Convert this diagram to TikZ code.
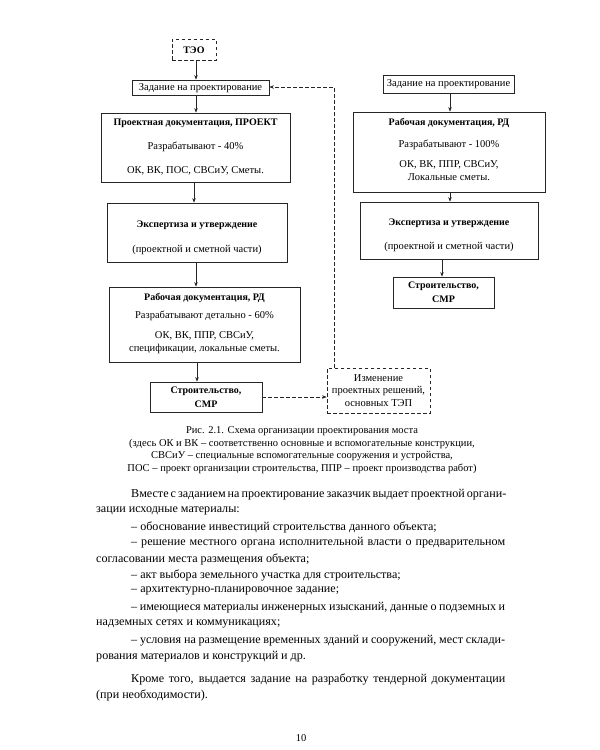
\documentclass[tikz,border=0pt]{standalone}
\usepackage{fontspec}
\setmainfont{Liberation Serif}
\usetikzlibrary{arrows.meta}
\begin{document}
\begin{tikzpicture}[x=1pt,y=-1pt,
  ink/.style={draw=black!85, line width=0.75pt},
  box/.style={ink, rectangle, inner sep=0pt},
  dbox/.style={box, dash pattern=on 3.5pt off 2.5pt},
  tx/.style={inner sep=0pt, text=black, font=\fontsize{10.5}{12}\selectfont},
  btx/.style={tx, font=\fontsize{10}{12}\selectfont\bfseries},
  arr/.style={ink, line width=0.6pt, -{Stealth[length=4.5pt,width=3.5pt]}},
  darr/.style={arr, dash pattern=on 3.5pt off 2.5pt},
  captx/.style={inner sep=0pt, text=black, font=\fontsize{10.5}{12}\selectfont},
  body/.style={inner sep=0pt, anchor=west, text=black, font=\fontsize{12.1}{14}\selectfont},
]
\useasboundingbox (0,0) rectangle (600,750);
\fill[white] (0,0) rectangle (600,750);

% ---------------- left column ----------------
\node[dbox, minimum width=44pt, minimum height=21pt] (teo) at (194,49.5) {};
\node[btx] (teot) at (194,50) {ТЭО};

\node[box, minimum width=137pt, minimum height=15pt] (zad1) at (200.5,87.5) {};
\node[tx] (zad1t) at (200.5,88) {Задание на проектирование};

\node[box, minimum width=189pt, minimum height=69pt] (proj) at (195.5,147.5) {};
\node[btx] (projt1) at (195.5,123) {Проектная документация, ПРОЕКТ};
\node[tx] (projt2) at (195.5,147) {Разрабатывают - 40\%};
\node[tx] (projt3) at (195.5,171) {ОК, ВК, ПОС, СВСиУ, Сметы.};

\node[box, minimum width=180pt, minimum height=59pt] (exp1) at (197,232.5) {};
\node[btx] (exp1t1) at (197,225) {Экспертиза и утверждение};
\node[tx] (exp1t2) at (197,250) {(проектной и сметной части)};

\node[box, minimum width=191pt, minimum height=75pt] (rd1) at (204.5,324.5) {};
\node[btx] (rd1t1) at (204.5,298) {Рабочая документация, РД};
\node[tx] (rd1t2) at (204.5,316) {Разрабатывают детально - 60\%};
\node[tx] (rd1t3) at (204.5,336) {ОК, ВК, ППР, СВСиУ,};
\node[tx] (rd1t4) at (204.5,349) {спецификации, локальные сметы.};

\node[box, minimum width=112pt, minimum height=30pt] (str1) at (206,397) {};
\node[btx] (str1t1) at (206,391) {Строительство,};
\node[btx] (str1t2) at (206,404) {СМР};

\node[dbox, minimum width=103pt, minimum height=45pt] (izm) at (378.5,390.5) {};
\node[tx] (izmt1) at (378.5,378) {Изменение};
\node[tx] (izmt2) at (378.5,391) {проектных решений,};
\node[tx] (izmt3) at (378.5,403) {основных ТЭП};

% ---------------- right column ----------------
\node[box, minimum width=131pt, minimum height=18pt] (zad2) at (448.5,84) {};
\node[tx] (zad2t) at (448.5,84.5) {Задание на проектирование};

\node[box, minimum width=192pt, minimum height=80pt] (rd2) at (449,152) {};
\node[btx] (rd2t1) at (449,123) {Рабочая документация, РД};
\node[tx] (rd2t2) at (449,145) {Разрабатывают - 100\%};
\node[tx] (rd2t3) at (449,165) {ОК, ВК, ППР, СВСиУ,};
\node[tx] (rd2t4) at (449,177) {Локальные сметы.};

\node[box, minimum width=178pt, minimum height=57pt] (exp2) at (449,230.5) {};
\node[btx] (exp2t1) at (449,223) {Экспертиза и утверждение};
\node[tx] (exp2t2) at (449,247) {(проектной и сметной части)};

\node[box, minimum width=101pt, minimum height=31pt] (str2) at (443.5,292.5) {};
\node[btx] (str2t1) at (443.5,286) {Строительство,};
\node[btx] (str2t2) at (443.5,299) {СМР};

% ---------------- connectors ----------------
\coordinate (a1) at (196,0);
\draw[arr] (teo.south -| a1) -- (zad1.north -| a1);
\draw[arr] (zad1.south -| a1) -- (proj.north -| a1);
\coordinate (a2) at (194,0);
\draw[arr] (proj.south -| a2) -- (exp1.north -| a2);
\draw[arr] (exp1.south -| a1) -- (rd1.north -| a1);
\coordinate (a3) at (197,0);
\draw[arr] (rd1.south -| a3) -- (str1.north -| a3);

\coordinate (b1) at (450,0);
\draw[arr] (zad2.south -| b1) -- (rd2.north -| b1);
\draw[arr] (rd2.south -| b1) -- (exp2.north -| b1);
\coordinate (b2) at (442,0);
\draw[arr] (exp2.south -| b2) -- (str2.north -| b2);

\draw[darr] (str1.east) -- (izm.west |- str1.east);
\coordinate (c1) at (334,87);
\draw[darr] (izm.north -| c1) -- (c1) -- (zad1.east |- c1);

% ---------------- caption ----------------
\node[captx] (cap1) at (302,431) {Рис. 2.1. Схема организации проектирования моста};
\node[captx] (cap2) at (302,443.5) {(здесь ОК и ВК – соответственно основные и вспомогательные конструкции,};
\node[captx] (cap3) at (302,456) {СВСиУ – специальные вспомогательные сооружения и устройства,};
\node[captx] (cap4) at (302,468.5) {ПОС – проект организации строительства, ППР – проект производства работ)};

% ---------------- body text ----------------
\node[body] (l1) at (131,495) {\makebox[374pt][s]{Вместе с заданием на проектирование заказчик выдает проектной органи-}};
\node[body] (l2) at (96,511) {зации исходные материалы:};
\node[body] (l3) at (131,527) {– обоснование инвестиций строительства данного объекта;};
\node[body] (l4) at (131,543) {\makebox[374pt][s]{– решение местного органа исполнительной власти о предварительном}};
\node[body] (l5) at (96,559) {согласовании места размещения объекта;};
\node[body] (l6) at (131,575) {– акт выбора земельного участка для строительства;};
\node[body] (l7) at (131,591) {– архитектурно-планировочное задание;};
\node[body] (l8) at (131,608) {\makebox[374pt][s]{– имеющиеся материалы инженерных изысканий, данные о подземных и}};
\node[body] (l9) at (96,624) {надземных сетях и коммуникациях;};
\node[body] (l10) at (131,641) {\makebox[374pt][s]{– условия на размещение временных зданий и сооружений, мест склади-}};
\node[body] (l11) at (96,657) {рования материалов и конструкций и др.};
\node[body] (l12) at (131,679) {\makebox[374pt][s]{Кроме того, выдается задание на разработку тендерной документации}};
\node[body] (l13) at (96,695) {(при необходимости).};
\node[captx] (pg) at (301,738) {10};
\end{tikzpicture}
\end{document}
